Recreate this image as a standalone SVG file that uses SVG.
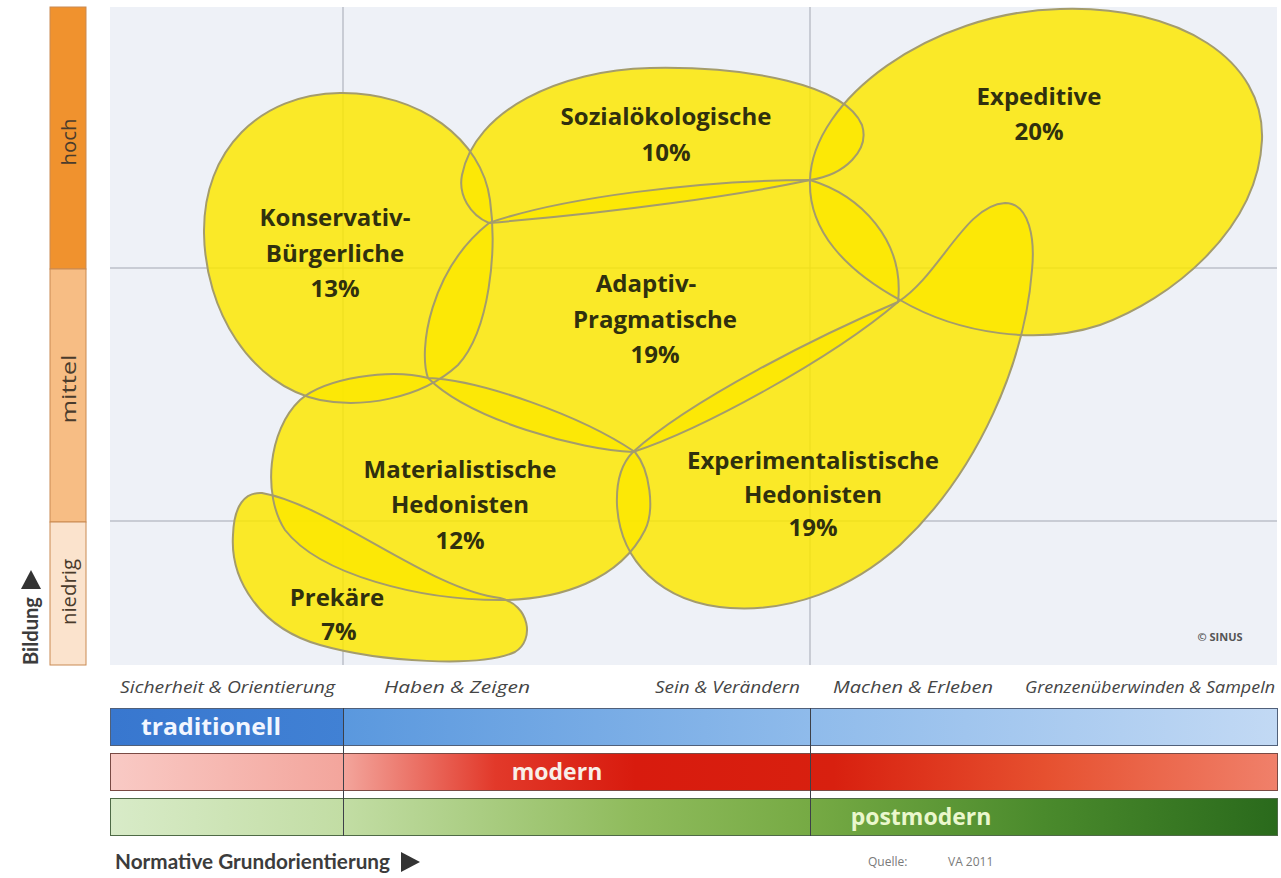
<svg xmlns="http://www.w3.org/2000/svg" xmlns:xlink="http://www.w3.org/1999/xlink" width="1281" height="878" viewBox="0 0 1281 878">
<style>
.fill{fill:#fce700;fill-opacity:0.84;stroke:none}
.line{fill:none;stroke:#a49c6c;stroke-width:2}
.lbl{font-family:"Open Sans",Lato,sans-serif;font-weight:700;font-size:24px;fill:#30300e;text-anchor:middle}
.axis{font-family:"Open Sans",Lato,sans-serif;font-size:20px;fill:#4a3b2c;text-anchor:middle}
.cat{font-family:"Open Sans",Lato,sans-serif;font-style:italic;font-size:16px;fill:#454545}
.bar{font-family:"Open Sans",Lato,sans-serif;font-weight:700;font-size:23px}
.grid{stroke:#a3a7b2;stroke-width:1}
.vline{stroke:#3d4048;stroke-width:1}
.title{font-family:Lato,"Open Sans",sans-serif;font-weight:700;font-size:21px;fill:#3c3c3c}
.src{font-family:"Open Sans",Lato,sans-serif;font-size:12px;fill:#7a7a7a}
</style>
<defs>
<linearGradient id="gTrad" x1="110" y1="0" x2="1277" y2="0" gradientUnits="userSpaceOnUse">
<stop offset="0" stop-color="#3877cf"/><stop offset="0.2" stop-color="#4181d4"/><stop offset="0.2" stop-color="#5a98de"/><stop offset="0.6" stop-color="#8fbbeb"/><stop offset="1" stop-color="#c2d9f4"/>
</linearGradient>
<linearGradient id="gMod" x1="110" y1="0" x2="1277" y2="0" gradientUnits="userSpaceOnUse">
<stop offset="0" stop-color="#f9cac5"/><stop offset="0.2" stop-color="#f3a59c"/><stop offset="0.33" stop-color="#e2392a"/><stop offset="0.45" stop-color="#d81b0e"/><stop offset="0.62" stop-color="#d8200f"/><stop offset="0.8" stop-color="#e6502f"/><stop offset="1" stop-color="#f0806a"/>
</linearGradient>
<linearGradient id="gPost" x1="110" y1="0" x2="1277" y2="0" gradientUnits="userSpaceOnUse">
<stop offset="0" stop-color="#d8ebc8"/><stop offset="0.2" stop-color="#c2dda4"/><stop offset="0.45" stop-color="#8fbb5c"/><stop offset="0.6" stop-color="#76aa44"/><stop offset="0.8" stop-color="#4a8a2c"/><stop offset="1" stop-color="#2a6a1c"/>
</linearGradient>
<path id="sKon" d="M340,93 C420,92 482,140 490,200 C497,250 490,330 458,365 C420,400 360,408 320,400 C250,385 205,310 204,233 C203,150 260,94 340,93 Z"/>
<path id="sSoz" d="M489,223 C470,215 458,195 462,175 C475,110 560,70 650,68 C750,66 845,85 862,125 C870,150 845,175 810,180 C740,195 620,212 489,223 Z"/>
<path id="sExp" d="M1060,9 C1180,5 1265,60 1262,140 C1258,230 1170,300 1100,325 C1040,345 960,335 900,300 C845,270 808,230 810,180 C812,100 930,12 1060,9 Z"/>
<path id="sAda" d="M489,223 C560,198 700,180 810,180 C860,195 905,240 898,302 C830,360 700,430 633,452 C580,450 470,420 428,378 C418,350 430,270 489,223 Z"/>
<path id="sExh" d="M633,452 C690,400 820,335 898,302 C940,275 965,205 1005,203 C1030,203 1035,240 1032,270 C1025,360 980,470 900,545 C850,590 790,612 730,608 C660,603 620,560 617,505 C616,480 622,463 633,452 Z"/>
<path id="sMat" d="M428,378 C480,380 580,415 635,452 C650,470 655,510 645,530 C620,580 560,600 500,600 C420,600 320,575 285,530 C262,495 268,430 300,400 C325,378 390,368 428,378 Z"/>
<path id="sPre" d="M262,493 C330,505 430,590 500,598 C530,605 535,640 515,652 C480,668 380,662 320,645 C260,628 230,580 233,535 C234,505 245,492 262,493 Z"/>
</defs>
<rect width="1281" height="878" fill="#ffffff"/>
<g id="plot">
<rect x="110" y="7" width="1167" height="658" fill="#eef1f7"/>
<line class="grid" x1="343" y1="7" x2="343" y2="665"/>
<line class="grid" x1="810" y1="7" x2="810" y2="665"/>
<line class="grid" x1="110" y1="268" x2="1277" y2="268"/>
<line class="grid" x1="110" y1="521" x2="1277" y2="521"/>
</g>
<g id="axis-bildung">
<rect x="50" y="7" width="36" height="262" fill="#f0922e" stroke="#c98a52" stroke-width="1"/>
<rect x="50" y="269" width="36" height="253" fill="#f7bd84" stroke="#c98a52" stroke-width="1"/>
<rect x="50" y="522" width="36" height="143" fill="#fbe3cd" stroke="#c98a52" stroke-width="1"/>
<text class="axis" transform="translate(76,142) rotate(-90)" textLength="47" lengthAdjust="spacingAndGlyphs">hoch</text>
<text class="axis" transform="translate(76,389) rotate(-90)" textLength="69" lengthAdjust="spacingAndGlyphs">mittel</text>
<text class="axis" transform="translate(76,592) rotate(-90)" textLength="66" lengthAdjust="spacingAndGlyphs">niedrig</text>
<text class="title" transform="translate(38,665) rotate(-90)" text-anchor="start" textLength="68" lengthAdjust="spacingAndGlyphs">Bildung</text>
<polygon points="21,589 41,589 31,570" fill="#333333"/>
</g>
<g id="node-expeditive"><use xlink:href="#sExp" class="fill"/></g>
<g id="node-sozialoekologische"><use xlink:href="#sSoz" class="fill"/></g>
<g id="node-konservativ"><use xlink:href="#sKon" class="fill"/></g>
<g id="node-adaptiv"><use xlink:href="#sAda" class="fill"/></g>
<g id="node-experimentalistisch"><use xlink:href="#sExh" class="fill"/></g>
<g id="node-materialistisch"><use xlink:href="#sMat" class="fill"/></g>
<g id="node-prekaere"><use xlink:href="#sPre" class="fill"/></g>
<g id="outlines">
<use xlink:href="#sExp" class="line"/>
<use xlink:href="#sSoz" class="line"/>
<use xlink:href="#sKon" class="line"/>
<use xlink:href="#sAda" class="line"/>
<use xlink:href="#sExh" class="line"/>
<use xlink:href="#sMat" class="line"/>
<use xlink:href="#sPre" class="line"/>
</g>
<g id="labels">
<text class="lbl" x="666" y="125">Sozialökologische</text>
<text class="lbl" x="666" y="161">10%</text>
<text class="lbl" x="1039" y="105">Expeditive</text>
<text class="lbl" x="1039" y="140">20%</text>
<text class="lbl" x="335" y="226">Konservativ-</text>
<text class="lbl" x="335" y="262">Bürgerliche</text>
<text class="lbl" x="335" y="297">13%</text>
<text class="lbl" x="646" y="292">Adaptiv-</text>
<text class="lbl" x="655" y="328">Pragmatische</text>
<text class="lbl" x="655" y="363">19%</text>
<text class="lbl" x="460" y="478">Materialistische</text>
<text class="lbl" x="460" y="513">Hedonisten</text>
<text class="lbl" x="460" y="549">12%</text>
<text class="lbl" x="813" y="469">Experimentalistische</text>
<text class="lbl" x="813" y="503">Hedonisten</text>
<text class="lbl" x="813" y="536">19%</text>
<text class="lbl" x="337" y="606">Prekäre</text>
<text class="lbl" x="339" y="640">7%</text>
<text x="1220" y="641" font-family="'Open Sans',Lato,sans-serif" font-weight="700" font-size="11" fill="#555555" text-anchor="middle">© SINUS</text>
</g>
<g id="categories">
<text class="cat" x="120" y="693" textLength="215" lengthAdjust="spacingAndGlyphs">Sicherheit &amp; Orientierung</text>
<text class="cat" x="384" y="693" textLength="146" lengthAdjust="spacingAndGlyphs">Haben &amp; Zeigen</text>
<text class="cat" x="655" y="693" textLength="145" lengthAdjust="spacingAndGlyphs">Sein &amp; Verändern</text>
<text class="cat" x="833" y="693" textLength="160" lengthAdjust="spacingAndGlyphs">Machen &amp; Erleben</text>
<text class="cat" x="1025" y="693" textLength="250" lengthAdjust="spacingAndGlyphs">Grenzenüberwinden &amp; Sampeln</text>
</g>
<g id="bars">
<rect x="110.5" y="708.5" width="1167" height="37" fill="url(#gTrad)" stroke="#50607a" stroke-width="1"/>
<rect x="110.5" y="753.5" width="1167" height="37" fill="url(#gMod)" stroke="#7a4a44" stroke-width="1"/>
<rect x="110.5" y="798.5" width="1167" height="37" fill="url(#gPost)" stroke="#4e6a46" stroke-width="1"/>
<line class="vline" x1="343.5" y1="708" x2="343.5" y2="836"/>
<line class="vline" x1="810.5" y1="708" x2="810.5" y2="836"/>
<text class="bar" x="141" y="735" fill="#f2f6ff" textLength="140" lengthAdjust="spacingAndGlyphs">traditionell</text>
<text class="bar" x="557" y="780" fill="#f8efe8" text-anchor="middle">modern</text>
<text class="bar" x="921" y="825" fill="#eaf7cc" text-anchor="middle">postmodern</text>
</g>
<g id="footer">
<text class="title" x="115" y="869" textLength="275" lengthAdjust="spacingAndGlyphs">Normative Grundorientierung</text>
<polygon points="401,852 401,872 420,862" fill="#333333"/>
<text class="src" x="868" y="866">Quelle:</text>
<text class="src" x="948" y="866" fill="#666666">VA 2011</text>
</g>
</svg>
